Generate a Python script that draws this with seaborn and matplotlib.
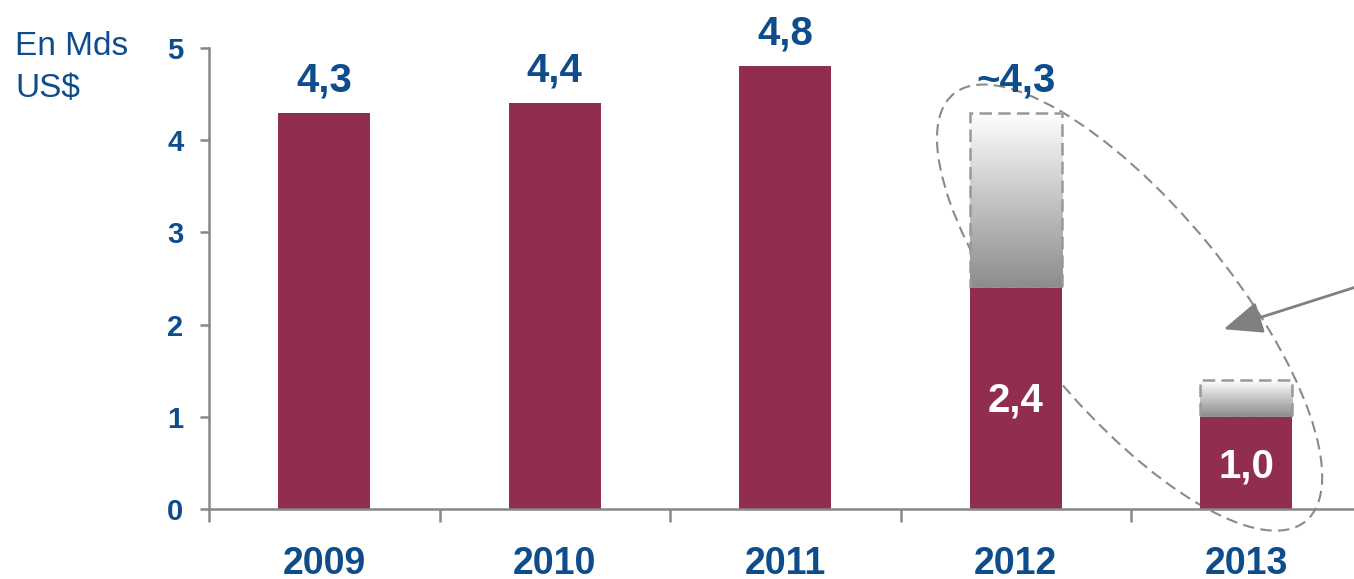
import numpy as np
import pandas as pd
import matplotlib
matplotlib.use("Agg")
import matplotlib.pyplot as plt
import seaborn as sns
from matplotlib.patches import Rectangle, Ellipse, FancyArrowPatch
from matplotlib.transforms import IdentityTransform
from matplotlib.colors import LinearSegmentedColormap

# ---- data ----
years = ["2009", "2010", "2011", "2012", "2013"]
actual = [4.3, 4.4, 4.8, 2.4, 1.0]
estimate_top = [None, None, None, 4.3, 1.4]
top_labels = ["4,3", "4,4", "4,8", "~4,3", None]
inside_labels = [None, None, None, "2,4", "1,0"]
yticks = [0, 1, 2, 3, 4, 5]
unit_label = "En Mds\nUS$"

BAR = "#922D52"
BLUE = "#0E4C8C"
GRAY = "#888888"
FONT = "Liberation Sans"

sns.set_style("white")
plt.rcParams["font.family"] = [FONT, "DejaVu Sans"]

W, H = 1354, 579
fig = plt.figure(figsize=(W / 100, H / 100), dpi=100)
ax = fig.add_axes([209 / W, 1 - 509 / H, 1 - 209 / W, (509 - 48) / H])

df = pd.DataFrame({"year": years, "value": actual})
sns.barplot(data=df, x="year", y="value", color=BAR, saturation=1,
            width=0.4, ax=ax, zorder=2)
for p in ax.patches:
    p.set_edgecolor("none")

bw = 0.4
cmap = LinearSegmentedColormap.from_list("g", ["#8c8c8c", "#c4c4c4", "#ffffff"])
grad = np.linspace(0, 1, 256).reshape(-1, 1)
for i, (v, t) in enumerate(zip(actual, estimate_top)):
    if t is None:
        continue
    ax.imshow(grad, extent=[i - bw / 2, i + bw / 2, v, t], origin="lower",
              cmap=cmap, aspect="auto", zorder=1.5)
    ax.add_patch(Rectangle((i - bw / 2, v), bw, t - v, fill=False,
                           edgecolor="#999999", lw=1.8,
                           linestyle=(0, (5, 2.5)), zorder=1.6))

# labels above bars
for i, lab in enumerate(top_labels):
    if lab is None:
        continue
    top = estimate_top[i] if estimate_top[i] is not None else actual[i]
    ax.annotate(lab, xy=(i, top), xytext=(0, 15.5), textcoords="offset points",
                ha="center", va="baseline", fontsize=29, fontweight="bold",
                color=BLUE, annotation_clip=False, zorder=4)
# labels inside bars
for i, lab in enumerate(inside_labels):
    if lab is None:
        continue
    ax.text(i, actual[i] * (0.49 if actual[i] > 2 else 0.46), lab,
            ha="center", va="center", fontsize=29, fontweight="bold",
            color="white", zorder=4)

ax.set_yticks(yticks)
ax.set_yticklabels([str(t) for t in yticks])
ax.set_xticks(np.arange(-0.5, len(years) + 0.5, 1), minor=True)
ax.set_ylim(0, 5)
ax.set_xlim(-0.5, (W - 209) / 230.5 - 0.5)
ax.set_xlabel("")
ax.set_ylabel("")

for s in ["top", "right"]:
    ax.spines[s].set_visible(False)
for s in ["left", "bottom"]:
    ax.spines[s].set_color(GRAY)
    ax.spines[s].set_linewidth(1.8)

ax.tick_params(axis="y", which="major", direction="out", length=6.5, width=1.8,
               color=GRAY, pad=12, labelsize=21, labelcolor=BLUE, left=True)
ax.tick_params(axis="x", which="major", length=0, pad=27, labelsize=27,
               labelcolor=BLUE)
ax.tick_params(axis="x", which="minor", direction="out", length=9, width=1.8,
               color=GRAY, bottom=True)
for lab in ax.get_xticklabels() + ax.get_yticklabels():
    lab.set_fontweight("bold")

fig.text(15 / W, 1 - 31 / H, unit_label, ha="left", va="top", fontsize=24,
         color=BLUE, linespacing=1.45)

# dashed ellipse annotation (pixel coordinates, y measured from top)
ell = Ellipse((1129.6, H - 307.6), 2 * 276.8, 2 * 101.2, angle=-50.5, fill=False,
              edgecolor="#8a8a8a", lw=1.5, linestyle=(0, (5.5, 3)),
              transform=IdentityTransform(), zorder=1, clip_on=False)
ax.add_artist(ell)

arr = FancyArrowPatch((W + 5, H - 286), (1221, H - 330),
                      arrowstyle="-|>,head_length=1.2,head_width=0.5",
                      mutation_scale=20, color="#808080", lw=2,
                      transform=IdentityTransform(), zorder=5, clip_on=False)
fig.add_artist(arr)

fig.savefig("out.png", dpi=100)
